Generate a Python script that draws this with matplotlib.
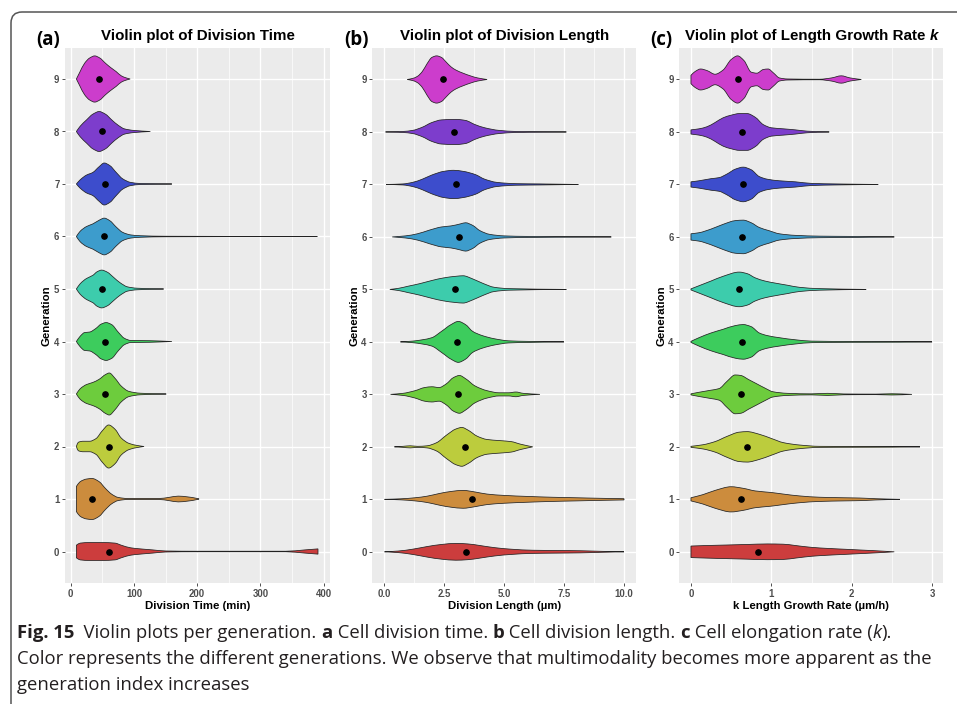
import numpy as np
import matplotlib
matplotlib.use("Agg")
import matplotlib.pyplot as plt
from matplotlib.path import Path
from matplotlib.patches import PathPatch

# ---------------- data ----------------
generations = list(range(10))
colors = ["#CC3D3D", "#CC8C3D", "#BCCC3D", "#6DCC3D", "#3DCC5D",
          "#3DCCAC", "#3D9CCC", "#3D4DCC", "#7D3DCC", "#CC3DCC"]

# Division time (min): density profile knots (value, half width) per generation
time_x = [
    [9, 15, 30, 50, 70, 80, 95, 110, 130, 150, 200, 340, 370, 391],
    [9, 15, 25, 34, 45, 55, 65, 75, 90, 140, 155, 170, 185, 200, 203],
    [9, 12, 20, 30, 40, 50, 60, 70, 80, 92, 105, 116],
    [9, 15, 25, 35, 45, 55, 61, 70, 80, 92, 110, 151],
    [9, 15, 22, 30, 40, 48, 56, 65, 75, 85, 95, 125, 160],
    [9, 15, 25, 35, 42, 49, 58, 68, 78, 90, 105, 147],
    [9, 15, 25, 35, 45, 53, 62, 72, 82, 95, 110, 150, 390],
    [9, 15, 25, 35, 45, 53, 62, 72, 82, 95, 110, 160],
    [9, 15, 25, 35, 45, 55, 65, 75, 85, 100, 126],
    [9, 14, 22, 30, 38, 46, 55, 63, 72, 80, 88, 94],
]
time_w = [
    [0.12, 0.16, 0.17, 0.17, 0.16, 0.12, 0.07, 0.05, 0.03, 0.01, 0.005, 0.005, 0.03, 0.05],
    [0.24, 0.33, 0.38, 0.39, 0.33, 0.20, 0.09, 0.03, 0.01, 0.01, 0.03, 0.055, 0.04, 0.01, 0],
    [0, 0.08, 0.10, 0.10, 0.15, 0.30, 0.41, 0.33, 0.16, 0.06, 0.02, 0],
    [0, 0.10, 0.18, 0.22, 0.28, 0.37, 0.40, 0.30, 0.15, 0.05, 0.015, 0],
    [0, 0.10, 0.17, 0.18, 0.25, 0.33, 0.36, 0.32, 0.18, 0.06, 0.02, 0.015, 0],
    [0, 0.10, 0.20, 0.26, 0.33, 0.36, 0.32, 0.22, 0.12, 0.04, 0.015, 0],
    [0, 0.10, 0.19, 0.24, 0.31, 0.35, 0.30, 0.18, 0.08, 0.03, 0.015, 0.005, 0],
    [0, 0.08, 0.17, 0.22, 0.33, 0.40, 0.35, 0.22, 0.10, 0.03, 0.01, 0],
    [0, 0.10, 0.22, 0.33, 0.38, 0.33, 0.22, 0.12, 0.05, 0.02, 0],
    [0, 0.12, 0.30, 0.40, 0.44, 0.40, 0.30, 0.22, 0.14, 0.06, 0.02, 0],
]
time_dot = [60, 34, 60, 55, 55, 49, 52, 55, 49, 44]

# Division length (um)
len_x = [
    [0.03, 0.6, 1.2, 1.8, 2.4, 3.0, 3.5, 4.0, 4.6, 5.3, 6.2, 7.2, 8.2, 9.0, 10.0],
    [0.03, 0.7, 1.3, 1.8, 2.3, 2.8, 3.3, 3.8, 4.3, 5.0, 6.0, 7.0, 8.0, 9.0, 10.0],
    [0.44, 0.8, 1.1, 1.4, 1.8, 2.2, 2.6, 3.0, 3.25, 3.5, 3.9, 4.3, 4.8, 5.3, 5.7, 6.2],
    [0.28, 0.8, 1.3, 1.7, 2.0, 2.3, 2.6, 2.9, 3.15, 3.4, 3.8, 4.3, 4.8, 5.2, 5.5, 5.8, 6.5],
    [0.69, 1.2, 1.6, 2.0, 2.4, 2.8, 3.1, 3.4, 3.7, 4.1, 4.6, 5.2, 6.0, 7.5],
    [0.25, 0.6, 1.0, 1.5, 2.0, 2.5, 3.0, 3.3, 3.7, 4.1, 4.6, 5.2, 7.6],
    [0.35, 0.9, 1.4, 1.9, 2.4, 2.8, 3.2, 3.4, 3.7, 4.0, 4.4, 5.0, 6.0, 9.47],
    [0.1, 0.8, 1.2, 1.6, 2.0, 2.5, 2.9, 3.3, 3.8, 4.2, 4.7, 5.5, 6.5, 8.1],
    [0.07, 0.8, 1.2, 1.6, 2.0, 2.4, 3.0, 3.4, 3.8, 4.2, 4.8, 5.5, 7.6],
    [0.97, 1.2, 1.4, 1.6, 1.8, 2.0, 2.2, 2.4, 2.6, 2.8, 3.0, 3.3, 3.6, 3.9, 4.3],
]
len_w = [
    [0, 0.015, 0.05, 0.10, 0.14, 0.16, 0.15, 0.12, 0.08, 0.05, 0.03, 0.025, 0.02, 0.01, 0],
    [0, 0.01, 0.03, 0.06, 0.11, 0.15, 0.17, 0.14, 0.10, 0.075, 0.055, 0.04, 0.03, 0.02, 0.012],
    [0, 0.01, 0.02, 0.01, 0.02, 0.08, 0.22, 0.34, 0.37, 0.32, 0.20, 0.14, 0.12, 0.10, 0.05, 0],
    [0, 0.02, 0.07, 0.13, 0.145, 0.13, 0.20, 0.32, 0.36, 0.30, 0.16, 0.07, 0.03, 0.03, 0.045, 0.02, 0],
    [0, 0.015, 0.04, 0.08, 0.20, 0.33, 0.39, 0.33, 0.20, 0.12, 0.06, 0.02, 0.01, 0],
    [0, 0.02, 0.06, 0.11, 0.17, 0.22, 0.25, 0.26, 0.20, 0.12, 0.04, 0.015, 0],
    [0, 0.02, 0.06, 0.13, 0.19, 0.21, 0.25, 0.27, 0.22, 0.12, 0.05, 0.02, 0.01, 0],
    [0, 0.01, 0.04, 0.10, 0.18, 0.25, 0.27, 0.25, 0.19, 0.10, 0.04, 0.015, 0.01, 0],
    [0, 0.01, 0.03, 0.09, 0.18, 0.23, 0.24, 0.22, 0.14, 0.08, 0.03, 0.01, 0],
    [0, 0.02, 0.06, 0.15, 0.30, 0.42, 0.45, 0.42, 0.33, 0.24, 0.18, 0.12, 0.07, 0.03, 0],
]
len_dot = [3.42, 3.67, 3.39, 3.08, 3.04, 2.97, 3.14, 3.0, 2.93, 2.46]

# Length growth rate k (um/h)
rate_x = [
    [0, 0.2, 0.45, 0.7, 0.95, 1.15, 1.3, 1.5, 1.7, 1.9, 2.1, 2.3, 2.53],
    [0, 0.15, 0.3, 0.5, 0.65, 0.8, 1.0, 1.15, 1.35, 1.6, 1.9, 2.1, 2.3, 2.6],
    [0, 0.15, 0.3, 0.45, 0.6, 0.7, 0.85, 1.0, 1.15, 1.35, 1.6, 2.0, 2.5, 2.85],
    [0, 0.1, 0.25, 0.35, 0.45, 0.55, 0.62, 0.72, 0.82, 0.92, 1.02, 1.2, 1.5, 1.7, 1.9, 2.3, 2.5, 2.75],
    [0, 0.1, 0.25, 0.4, 0.55, 0.65, 0.75, 0.85, 0.95, 1.1, 1.3, 1.5, 2.0, 2.6, 3.0],
    [0, 0.1, 0.25, 0.4, 0.6, 0.7, 0.8, 0.92, 1.05, 1.2, 1.35, 1.6, 2.18],
    [0, 0.1, 0.25, 0.4, 0.55, 0.65, 0.75, 0.85, 0.97, 1.1, 1.3, 1.6, 2.0, 2.53],
    [0, 0.1, 0.25, 0.35, 0.45, 0.55, 0.65, 0.75, 0.85, 0.95, 1.1, 1.3, 1.5, 1.8, 2.33],
    [0, 0.1, 0.2, 0.3, 0.4, 0.5, 0.6, 0.7, 0.8, 0.9, 1.0, 1.15, 1.3, 1.45, 1.72],
    [0, 0.05, 0.12, 0.2, 0.3, 0.4, 0.5, 0.58, 0.66, 0.75, 0.82, 0.9, 0.96, 1.03, 1.1, 1.2, 1.6, 1.75, 1.87, 1.98, 2.12],
]
rate_w = [
    [0.11, 0.12, 0.13, 0.14, 0.15, 0.145, 0.12, 0.085, 0.065, 0.05, 0.035, 0.02, 0],
    [0.03, 0.09, 0.17, 0.24, 0.21, 0.16, 0.13, 0.10, 0.065, 0.04, 0.03, 0.025, 0.012, 0],
    [0.01, 0.04, 0.10, 0.20, 0.28, 0.29, 0.24, 0.16, 0.08, 0.035, 0.01, 0.008, 0.006, 0],
    [0.01, 0.04, 0.08, 0.11, 0.25, 0.37, 0.36, 0.28, 0.20, 0.12, 0.05, 0.02, 0.01, 0.02, 0.008, 0.005, 0.012, 0],
    [0.01, 0.08, 0.17, 0.24, 0.31, 0.33, 0.29, 0.17, 0.12, 0.08, 0.04, 0.015, 0.008, 0.006, 0],
    [0.01, 0.07, 0.16, 0.25, 0.33, 0.30, 0.22, 0.16, 0.12, 0.08, 0.04, 0.015, 0],
    [0.06, 0.08, 0.15, 0.24, 0.31, 0.32, 0.27, 0.18, 0.12, 0.06, 0.03, 0.015, 0.01, 0],
    [0.05, 0.07, 0.11, 0.13, 0.20, 0.29, 0.33, 0.28, 0.15, 0.10, 0.07, 0.05, 0.02, 0.01, 0],
    [0.04, 0.06, 0.10, 0.18, 0.27, 0.32, 0.35, 0.35, 0.28, 0.14, 0.08, 0.06, 0.04, 0.015, 0],
    [0.08, 0.15, 0.20, 0.17, 0.10, 0.18, 0.38, 0.45, 0.36, 0.14, 0.12, 0.19, 0.20, 0.12, 0.03, 0.01, 0.005, 0.03, 0.07, 0.03, 0],
]
rate_dot = [0.83, 0.62, 0.70, 0.62, 0.63, 0.60, 0.63, 0.65, 0.63, 0.59]

titles = ["Violin plot of Division Time", "Violin plot of Division Length",
          "Violin plot of Length Growth Rate "]
panel_tags = ["(a)", "(b)", "(c)"]
xlabels = ["Division Time (min)", "Division Length (\u00b5m)", "k Length Growth Rate (\u00b5m/h)"]
xticks = [[0, 100, 200, 300, 400], [0.0, 2.5, 5.0, 7.5, 10.0], [0, 1, 2, 3]]
xticklabels = [["0", "100", "200", "300", "400"], ["0.0", "2.5", "5.0", "7.5", "10.0"],
               ["0", "1", "2", "3"]]
xminor = [[50, 150, 250, 350], [1.25, 3.75, 6.25, 8.75], [0.5, 1.5, 2.5]]
xlims = [(-9, 410), (-0.48, 10.5), (-0.145, 3.14)]

caption_line1 = [("Fig. 15", "bold", "normal"), ("  Violin plots per generation. ", "normal", "normal"),
                 ("a", "bold", "normal"), (" Cell division time. ", "normal", "normal"),
                 ("b", "bold", "normal"), (" Cell division length. ", "normal", "normal"),
                 ("c", "bold", "normal"), (" Cell elongation rate (", "normal", "normal"),
                 ("k", "normal", "italic"), (").", "normal", "normal")]
caption_line2 = "Color represents the different generations. We observe that multimodality becomes more apparent as the"
caption_line3 = "generation index increases"

# ---------------- drawing ----------------
W, H = 957, 704
fig = plt.figure(figsize=(W / 100, H / 100), dpi=100)
fig.patch.set_facecolor("white")
renderer = fig.canvas.get_renderer()


def px_axes(l, t, r, b):
    return fig.add_axes([l / W, 1 - b / H, (r - l) / W, (b - t) / H])


def pchip_slopes(x, y):
    x = np.asarray(x, float); y = np.asarray(y, float)
    n = len(x)
    h = np.diff(x); d = np.diff(y) / h
    m = np.zeros(n)
    if n == 2:
        m[:] = d[0]
        return m
    for i in range(1, n - 1):
        if d[i - 1] * d[i] <= 0:
            m[i] = 0.0
        else:
            w1 = 2 * h[i] + h[i - 1]; w2 = h[i] + 2 * h[i - 1]
            m[i] = (w1 + w2) / (w1 / d[i - 1] + w2 / d[i])
    m[0] = d[0] if d[0] * d[min(1, n - 2)] > 0 else 0.0
    m[-1] = d[-1]
    return m


def violin_path(xs, ws, g):
    xs = np.asarray(xs, float); ws = np.asarray(ws, float)
    m = pchip_slopes(xs, ws)
    segs = []
    for i in range(len(xs) - 1):
        hh = xs[i + 1] - xs[i]
        c1 = (xs[i] + hh / 3, max(ws[i] + m[i] * hh / 3, 0))
        c2 = (xs[i + 1] - hh / 3, max(ws[i + 1] - m[i + 1] * hh / 3, 0))
        segs.append((c1, c2, (xs[i + 1], ws[i + 1])))
    verts = [(xs[0], g + ws[0])]
    codes = [Path.MOVETO]
    for c1, c2, p in segs:
        verts += [(c1[0], g + c1[1]), (c2[0], g + c2[1]), (p[0], g + p[1])]
        codes += [Path.CURVE4] * 3
    verts.append((xs[-1], g - ws[-1])); codes.append(Path.LINETO)
    for i in range(len(segs) - 1, -1, -1):
        c1, c2, p = segs[i]
        verts += [(c2[0], g - c2[1]), (c1[0], g - c1[1]), (xs[i], g - ws[i])]
        codes += [Path.CURVE4] * 3
    verts.append((xs[0], g + ws[0])); codes.append(Path.CLOSEPOLY)
    return Path(verts, codes)


panels_px = [(65, 47.5, 330, 583), (372.3, 48, 636, 583.3), (679.3, 48, 943.3, 583.3)]
data_sets = [(time_x, time_w, time_dot), (len_x, len_w, len_dot), (rate_x, rate_w, rate_dot)]
tag_x = [36, 344, 650.5]
ylab_x = [51.5, 359.5, 666.5]
TFS = 10.9

for p in range(3):
    l, t, r, b = panels_px[p]
    ax = px_axes(l, t, r, b)
    ax.set_facecolor("#EBEBEB")
    for s in ax.spines.values():
        s.set_visible(False)
    ax.set_xlim(*xlims[p])
    ax.set_ylim(-0.6, 9.6)
    ax.set_xticks(xticks[p])
    ax.set_xticklabels(xticklabels[p])
    ax.set_xticks(xminor[p], minor=True)
    ax.set_yticks(generations)
    ax.set_yticklabels([str(g) for g in generations])
    ax.grid(True, which="major", color="white", lw=1.0, zorder=0)
    ax.grid(True, which="minor", axis="x", color="white", lw=0.5, zorder=0)
    ax.set_axisbelow(True)
    ax.tick_params(which="major", length=2.5, width=0.6, color="#333333", pad=1.5,
                   labelsize=6.9, labelcolor="#4D4D4D")
    ax.tick_params(which="minor", length=0)
    for lab in ax.get_xticklabels() + ax.get_yticklabels():
        lab.set_fontweight("bold")
        lab.set_family("Liberation Sans")
    xs_all, ws_all, dots = data_sets[p]
    for g in generations:
        path = violin_path(xs_all[g], ws_all[g], g)
        ax.add_patch(PathPatch(path, facecolor=colors[g], edgecolor="#222222", lw=0.55, zorder=2))
        ax.plot([dots[g]], [g], "o", color="black", ms=3.8, zorder=3)
    ax.set_xlabel(xlabels[p], fontsize=8.2, fontweight="bold", family="Liberation Sans", labelpad=1.5)
    ax.set_ylabel("Generation", fontsize=8.2, fontweight="bold", family="Liberation Sans", labelpad=4)
    ax.yaxis.set_label_coords((ylab_x[p] - l) / (r - l), 0.5)
    cx = (l + r) / 2
    if p < 2:
        fig.text(cx / W, 1 - 40 / H, titles[p], ha="center", va="baseline", fontsize=TFS,
                 fontweight="bold", family="Liberation Sans")
    else:
        t1 = fig.text(0, 0, titles[p], fontsize=TFS, fontweight="bold", family="Liberation Sans")
        t2 = fig.text(0, 0, "k", fontsize=TFS, fontweight="bold", fontstyle="italic", family="Liberation Sans")
        w1 = t1.get_window_extent(renderer).width
        w2 = t2.get_window_extent(renderer).width
        x0 = cx - (w1 + w2) / 2
        t1.set_position((x0 / W, 1 - 40 / H)); t1.set_va("baseline")
        t2.set_position(((x0 + w1) / W, 1 - 40 / H)); t2.set_va("baseline")
    fig.text(tag_x[p] / W, 1 - 44.5 / H, panel_tags[p], ha="left", va="baseline", fontsize=13.5,
             fontweight="bold", family="Open Sans")

# frame around the figure (rounded top-left corner)
fx0, fy0, rad = 11, 12, 11
fverts = [(fx0, H), (fx0, fy0 + rad), (fx0, fy0), (fx0 + rad, fy0), (W, fy0)]
fverts = [(x / W, 1 - y / H) for x, y in fverts]
fpath = Path(fverts, [Path.MOVETO, Path.LINETO, Path.CURVE3, Path.CURVE3, Path.LINETO])
fig.patches.append(PathPatch(fpath, transform=fig.transFigure, fill=False, edgecolor="#555555", lw=1.1))

# caption
cap_font = "Open Sans"
cap_size = 13.3
cap_col = "#231F20"
xpos = 17
for txt, wt, st in caption_line1:
    tt = fig.text(xpos / W, 1 - 638 / H, txt, fontsize=cap_size, fontweight=wt, fontstyle=st,
                  family=cap_font, color=cap_col, va="baseline")
    xpos += tt.get_window_extent(renderer).width
fig.text(17 / W, 1 - 664 / H, caption_line2, fontsize=cap_size, family=cap_font, color=cap_col, va="baseline")
fig.text(17 / W, 1 - 690 / H, caption_line3, fontsize=cap_size, family=cap_font, color=cap_col, va="baseline")

fig.savefig("out.png", dpi=100)
